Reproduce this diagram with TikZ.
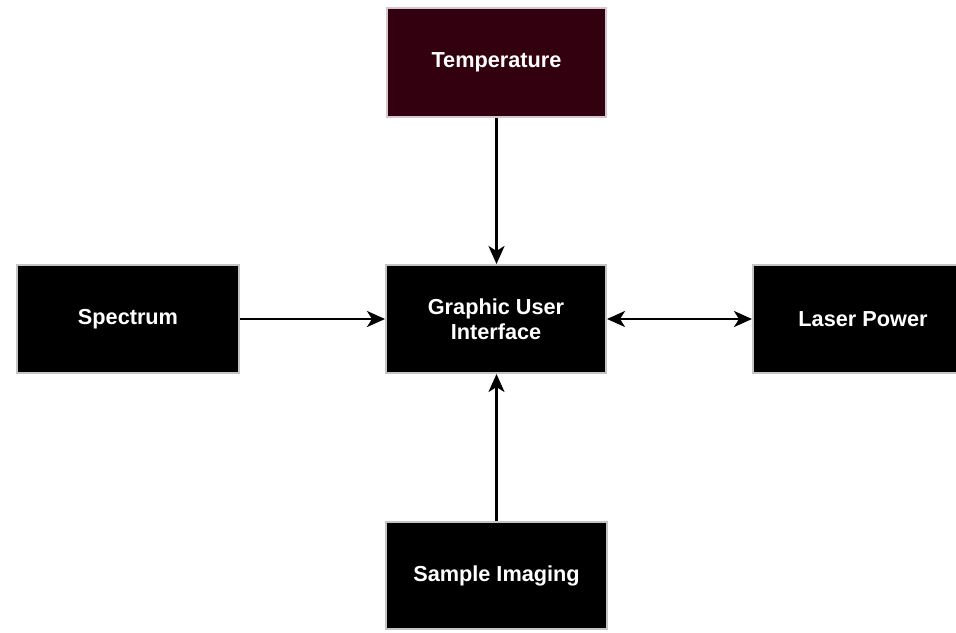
\documentclass[tikz,border=0pt]{standalone}
\usepackage{fontspec}
\setmainfont{Liberation Sans}
\usetikzlibrary{arrows.meta}
\definecolor{maroon}{HTML}{33000F}
\definecolor{bordergray}{HTML}{C4C4C4}
\definecolor{borderpink}{HTML}{D6C6CE}
\tikzset{
  blk/.style={draw=bordergray, line width=2pt, fill=black, text=white,
    minimum width=220pt, minimum height=108pt, inner sep=0pt,
    font=\bfseries\fontsize{21.7}{25}\selectfont, align=center},
  tip/.style={Stealth[length=18pt,width=16pt,inset=5pt]},
  conn/.style={line width=2.6pt, -{Stealth[length=18pt,width=16pt,inset=5pt]}},
  biconn/.style={line width=2.6pt, {Stealth[length=18pt,width=16pt,inset=5pt]}-{Stealth[length=18pt,width=16pt,inset=5pt]}}
}
\begin{document}
\begin{tikzpicture}[x=1pt,y=-1pt]
\useasboundingbox (0,0) rectangle (956,632);
\clip (0,0) rectangle (956,632);
\fill[white] (0,0) rectangle (956,632);
\node[blk, fill=maroon, draw=borderpink, minimum width=219pt, minimum height=109pt] (temp) at (496.5,62.5) {Temperature};
\node[blk, minimum width=222pt] (spec) at (128,319) {Spectrum};
\node[blk] (gui) at (496,319) {Graphic User\\Interface};
\node[blk] (laser) at (863,319) {Laser Power};
\node[blk, minimum width=221pt, minimum height=107pt] (samp) at (496.5,575.5) {Sample Imaging};
\draw[conn] (temp.south) -- (temp.south |- gui.north);
\draw[conn] (spec.east) -- (gui.west);
\draw[biconn] (gui.east) -- (laser.west);
\draw[conn] (samp.north -| temp.south) -- (temp.south |- gui.south);
\end{tikzpicture}
\end{document}
